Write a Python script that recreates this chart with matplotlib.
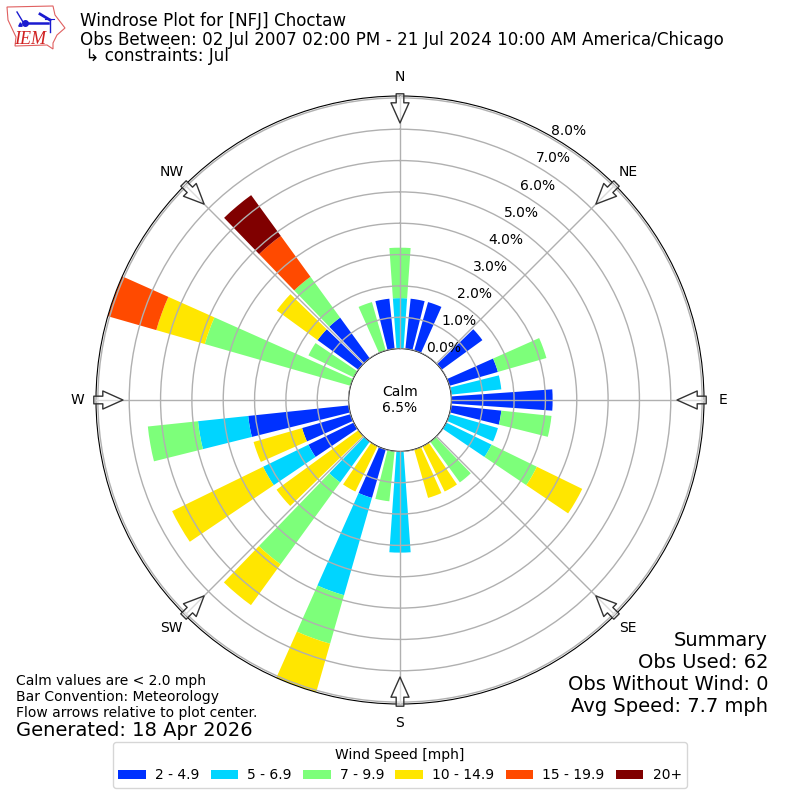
#!/usr/bin/env python
import numpy as np
import matplotlib
matplotlib.use('Agg')
import matplotlib.pyplot as plt
from matplotlib.patches import Rectangle, Polygon

# direction of each bar, degrees clockwise from north
directions = list(range(0, 360, 10))

# percent of observations in each speed bin, one value per direction
#            0     10    20    30    40    50    60    70    80    90
speed_2 = [0.00, 1.61, 1.61, 0.00, 0.00, 1.61, 0.00, 1.61, 0.00, 3.23,
           1.61, 0.00, 0.00, 0.00, 0.00, 0.00, 0.00, 0.00, 0.00, 0.00,
           1.61, 0.00, 0.00, 0.00, 1.61, 1.61, 3.23, 0.00, 0.00, 0.00,
           0.00, 1.61, 1.61, 0.00, 0.00, 1.61]
speed_5 = [1.61, 0.00, 0.00, 0.00, 0.00, 0.00, 0.00, 0.00, 1.61, 0.00,
           0.00, 1.61, 1.61, 0.00, 0.00, 0.00, 0.00, 0.00, 3.23, 0.00,
           3.23, 0.00, 1.61, 0.00, 1.61, 0.00, 1.61, 0.00, 0.00, 0.00,
           0.00, 0.00, 0.00, 0.00, 0.00, 0.00]
speed_7 = [1.61, 0.00, 0.00, 0.00, 0.00, 0.00, 0.00, 1.61, 0.00, 0.00,
           1.61, 0.00, 1.61, 0.00, 1.61, 0.00, 0.00, 0.00, 0.00, 1.61,
           1.61, 0.00, 3.23, 0.00, 0.00, 0.00, 1.61, 0.00, 0.00, 4.84,
           1.61, 0.00, 1.61, 0.00, 1.61, 0.00]
speed_10 = [0.00, 0.00, 0.00, 0.00, 0.00, 0.00, 0.00, 0.00, 0.00, 0.00,
            0.00, 0.00, 1.61, 0.00, 0.00, 1.61, 1.61, 0.00, 0.00, 0.00,
            1.61, 1.61, 1.61, 3.23, 3.23, 1.61, 0.00, 0.00, 0.00, 1.61,
            0.00, 1.61, 0.00, 0.00, 0.00, 0.00]
speed_15 = [0.00, 0.00, 0.00, 0.00, 0.00, 0.00, 0.00, 0.00, 0.00, 0.00,
            0.00, 0.00, 0.00, 0.00, 0.00, 0.00, 0.00, 0.00, 0.00, 0.00,
            0.00, 0.00, 0.00, 0.00, 0.00, 0.00, 0.00, 0.00, 0.00, 1.61,
            0.00, 0.00, 1.61, 0.00, 0.00, 0.00]
speed_20 = [0.00, 0.00, 0.00, 0.00, 0.00, 0.00, 0.00, 0.00, 0.00, 0.00,
            0.00, 0.00, 0.00, 0.00, 0.00, 0.00, 0.00, 0.00, 0.00, 0.00,
            0.00, 0.00, 0.00, 0.00, 0.00, 0.00, 0.00, 0.00, 0.00, 0.00,
            0.00, 0.00, 1.61, 0.00, 0.00, 0.00]

series = [speed_2, speed_5, speed_7, speed_10, speed_15, speed_20]
labels = ['2 - 4.9', '5 - 6.9', '7 - 9.9', '10 - 14.9', '15 - 19.9', '20+']
colors = ['#0031ff', '#00d5ff', '#7dff7a', '#ffe600', '#ff4a00', '#800000']

compass_deg = [0, 45, 90, 135, 180, 225, 270, 315]
compass_names = ['N', 'NE', 'E', 'SE', 'S', 'SW', 'W', 'NW']
radial_ticks = [0, 1, 2, 3, 4, 5, 6, 7, 8]
radial_labels = ['%.1f%%' % t for t in radial_ticks]

# outline of the little state logo, in pixels of the logo box
logo_outline = [(7, 7), (53, 6), (55, 15), (65, 28), (57, 35), (53, 43),
                (53, 49), (47, 45), (15, 46), (16, 37), (8, 20)]

fig = plt.figure(figsize=(8, 8), dpi=100)
ax = fig.add_axes([0.12, 0.12, 0.76, 0.76], projection='polar')
ax.set_theta_zero_location('N')
ax.set_theta_direction(-1)

theta = np.radians(directions)
bottom = np.zeros(len(directions))
for values, color in zip(series, colors):
    values = np.array(values)
    ax.bar(theta, values, width=np.radians(8), bottom=bottom, color=color,
           linewidth=0, zorder=2)
    bottom = bottom + values

ax.set_ylim(0, 8.06)
ax.set_rorigin(-1.64)
ax.set_rticks(radial_ticks)
ax.set_yticklabels(radial_labels, fontsize=10)
ax.set_rlabel_position(30)
ax.set_thetagrids(compass_deg, compass_names, fontsize=10)
ax.tick_params(axis='x', pad=3)
ax.grid(True, color='#b0b0b0', linewidth=1)
ax.set_axisbelow(False)

# flow arrows pointing at the plot center
for deg in compass_deg:
    t = np.radians(deg)
    ax.annotate('', xy=(t, 7.2), xytext=(t, 8.13), annotation_clip=False,
                arrowprops=dict(width=5.5, headwidth=13, headlength=14.5,
                                shrink=0, facecolor=(1, 1, 1, 0.55),
                                edgecolor='#333333', linewidth=1), zorder=5)

ax.text(0.5, 0.5, 'Calm\n6.5%', transform=ax.transAxes, ha='center',
        va='center', fontsize=10)

fig.text(0.1, 0.9855, 'Windrose Plot for [NFJ] Choctaw\n'
         'Obs Between: 02 Jul 2007 02:00 PM - 21 Jul 2024 10:00 AM America/Chicago',
         fontsize=12.05, va='top', linespacing=1.08)
fig.text(0.1, 0.9305, ' \u21b3 constraints: Jul', fontsize=12.05, va='center')

fig.text(0.02, 0.1, 'Calm values are < 2.0 mph\nBar Convention: Meteorology\n'
         'Flow arrows relative to plot center.', fontsize=10, va='bottom')
fig.text(0.02, 0.0755, 'Generated: 18 Apr 2026', fontsize=14, va='bottom')

fig.text(0.96, 0.1045, 'Summary\nObs Used: 62\nObs Without Wind: 0\nAvg Speed: 7.7 mph',
         fontsize=14, ha='right', va='bottom', linespacing=1.2)

handles = [Rectangle((0, 0), 1, 1, facecolor=c) for c in colors]
fig.legend(handles, labels, title='Wind Speed [mph]', ncol=6, fontsize=10,
           title_fontsize=10, loc='lower center', columnspacing=0.8,
           handletextpad=0.65, bbox_to_anchor=(0.5, 0.0063))

# logo
logo = fig.add_axes([0, 1 - 55 / 800, 75 / 800, 55 / 800])
logo.set_xlim(0, 75)
logo.set_ylim(55, 0)
logo.axis('off')
logo.add_patch(Polygon(logo_outline, closed=True, fill=False,
                       edgecolor='#e06060', linewidth=0.8))
logo.plot([25, 48], [23, 23], color='#1a1ad0', linewidth=1.8)
logo.plot([25], [23], 'o', color='#1a1ad0', markersize=4)
logo.plot([17, 23], [12, 22], color='#1a1ad0', linewidth=1)
logo.plot([40, 50], [14, 20], color='#1a1ad0', linewidth=2)
logo.plot([45, 54], [19, 19], color='#1a1ad0', linewidth=0.8)
logo.plot([50, 50], [19, 32], color='#1a1ad0', linewidth=1)
logo.plot([20], [24], '^', color='#1a1ad0', markersize=2.5)
logo.text(30, 39, 'IEM', color='#d02020', fontsize=13, style='italic',
          family='Liberation Serif', ha='center', va='center')

plt.savefig('out.png', dpi=100)
